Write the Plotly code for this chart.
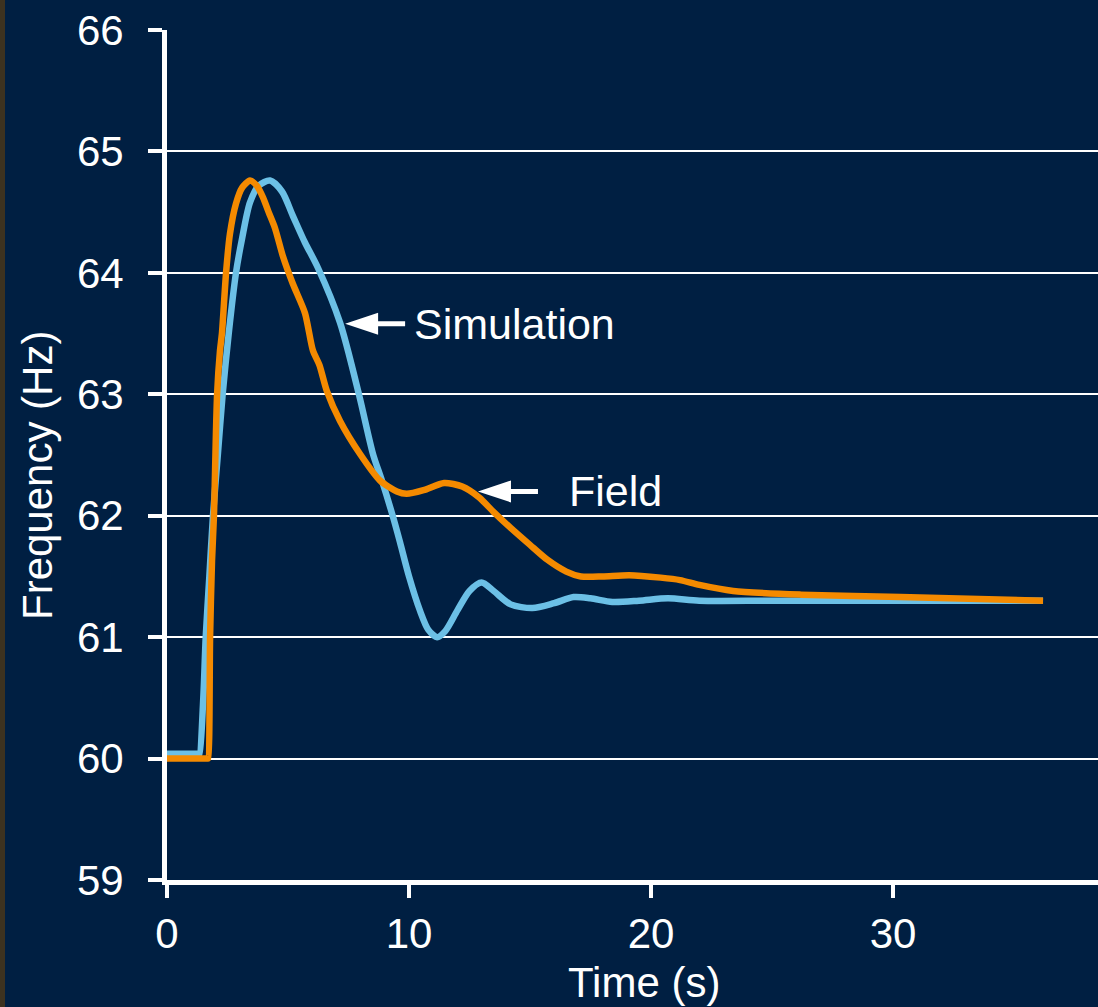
import plotly.graph_objects as go

# ---- data ----
sim_t = [0, 1.0, 1.33, 1.35, 1.5, 1.6, 1.75, 1.9, 2.1, 2.3, 2.55, 2.85, 3.1, 3.43, 3.8, 4.26,
         4.75, 5.2, 5.7, 6.24, 7.15, 7.93, 8.51, 8.88, 9.34, 9.63, 10.0, 10.45, 10.8, 11.16,
         11.5, 12.0, 12.5, 13.0, 13.5, 14.2, 15.1, 16.0, 16.8, 17.5, 18.4, 19.5, 20.7,
         22.0, 25.0, 30.0, 36.2]
sim_f = [60.04, 60.04, 60.04, 60.04, 60.5, 61.0, 61.5, 62.0, 62.5, 63.0, 63.5, 64.0, 64.28,
         64.58, 64.72, 64.76, 64.67, 64.47, 64.25, 64.04, 63.59, 63.0, 62.51, 62.29, 61.99,
         61.78, 61.5, 61.22, 61.06, 61.0, 61.05, 61.22, 61.38, 61.45, 61.38, 61.27, 61.24,
         61.28, 61.33, 61.32, 61.29, 61.30, 61.32, 61.30, 61.30, 61.30, 61.30]

fld_t = [0, 1.3, 1.68, 1.7, 1.78, 1.86, 1.94, 2.07, 2.19, 2.27, 2.44, 2.6, 2.85, 3.1, 3.43,
         3.7, 3.97, 4.2, 4.46, 4.8, 5.2, 5.7, 6.03, 6.3, 6.6, 7.15, 7.97, 8.8, 9.5, 9.9,
         10.6, 11.45, 12.2, 12.9, 13.5, 14.2, 15.0, 15.7, 16.5, 17.1, 18.0, 19.1, 20.4,
         21.2, 22.0, 23.4, 26.2, 30.3, 36.2]
fld_f = [60.0, 60.0, 60.0, 60.0, 61.0, 61.63, 62.0, 63.0, 63.36, 63.5, 64.0, 64.32, 64.57,
         64.70, 64.76, 64.72, 64.62, 64.5, 64.37, 64.13, 63.91, 63.67, 63.36, 63.24, 63.03,
         62.78, 62.51, 62.29, 62.2, 62.18, 62.21, 62.27, 62.24, 62.15, 62.03, 61.9, 61.76,
         61.64, 61.54, 61.5, 61.5, 61.51, 61.49, 61.47, 61.43, 61.38, 61.35, 61.33, 61.30]

x_ticks = [0, 10, 20, 30]
y_ticks = [59, 60, 61, 62, 63, 64, 65, 66]

labels = ["Simulation", "Field"]
label_t = [7.36, 12.85]
label_f = [63.58, 62.2]
label_gap = [67, 89]

BG = "#001f42"
FONT = "Liberation Sans, Arial, sans-serif"
W, H = 1098, 1007
ML, MR, MT, MB = 167, 0, 30, 127
PW = W - ML - MR
PH = H - MT - MB
X_MAX = PW / 24.2

fig = go.Figure()
fig.add_trace(go.Scatter(x=sim_t, y=sim_f, mode="lines", name="Simulation",
                         line=dict(color="#6cc0e6", width=6.5, shape="spline", smoothing=0.8)))
fig.add_trace(go.Scatter(x=fld_t, y=fld_f, mode="lines", name="Field",
                         line=dict(color="#f48a00", width=6.5, shape="spline", smoothing=0.7)))

# arrows + labels
arrow_path = "M0,0 L33,11 L33,2.5 L60,2.5 L60,-2.5 L33,-2.5 L33,-11 Z"
for txt, t, f, g in zip(labels, label_t, label_f, label_gap):
    fig.add_shape(type="path", xref="x", yref="y", xsizemode="pixel", ysizemode="pixel",
                  xanchor=t, yanchor=f, path=arrow_path,
                  fillcolor="white", line=dict(width=0))
    fig.add_annotation(x=t, y=f, xref="x", yref="y", text=txt, showarrow=False,
                       xanchor="left", yanchor="middle", xshift=g,
                       font=dict(family=FONT, size=43, color="white"))

# axis titles
fig.add_annotation(xref="paper", yref="paper", x=(38 - ML) / PW, y=(H - MB - 476) / PH,
                   text="Frequency (Hz)", textangle=-90, showarrow=False,
                   xanchor="center", yanchor="middle",
                   font=dict(family=FONT, size=42, color="white"))
fig.add_annotation(xref="paper", yref="paper", x=(644 - ML) / PW, y=(H - MB - 982) / PH,
                   text="Time (s)", showarrow=False, xanchor="center", yanchor="middle",
                   font=dict(family=FONT, size=42, color="white"))

# left edge strip
fig.add_shape(type="rect", xref="paper", yref="paper", x0=-ML / PW, x1=(5 - ML) / PW,
              y0=-MB / PH, y1=1 + MT / PH, fillcolor="#3c3220", line=dict(width=0), layer="below")

fig.update_layout(
    width=W, height=H,
    margin=dict(l=ML, r=MR, t=MT, b=MB),
    paper_bgcolor=BG, plot_bgcolor=BG,
    showlegend=False,
    font=dict(family=FONT, size=42, color="white"),
    xaxis=dict(range=[0, X_MAX], tickvals=x_ticks, showgrid=False, zeroline=False,
               showline=True, linecolor="white", linewidth=5,
               ticks="outside", ticklen=13, tickwidth=4, tickcolor="white",
               tickfont=dict(family=FONT, size=42, color="white")),
    yaxis=dict(range=[59, 66], tickvals=y_ticks, showgrid=True, gridcolor="white",
               gridwidth=2, zeroline=False, showline=True, linecolor="white", linewidth=5,
               ticks="outside", ticklen=14, tickwidth=4, tickcolor="white",
               ticklabelstandoff=16,
               tickfont=dict(family=FONT, size=42, color="white")),
)

fig.write_html("out.html", config={"displayModeBar": False},
               post_script="document.body.style.margin='0px';document.body.style.overflow='hidden';")
